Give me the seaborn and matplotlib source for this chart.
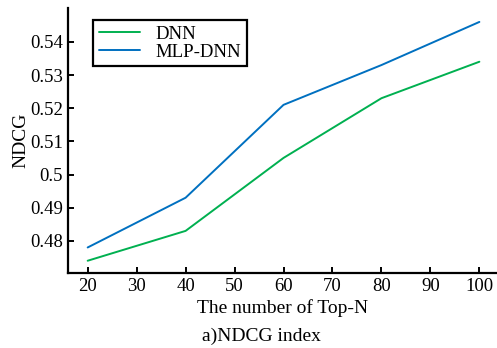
import matplotlib
matplotlib.use("Agg")
import matplotlib.pyplot as plt
import seaborn as sns
import pandas as pd
from matplotlib.ticker import FuncFormatter

top_n = [20, 40, 60, 80, 100]
dnn = [0.474, 0.483, 0.505, 0.523, 0.534]
mlp_dnn = [0.478, 0.493, 0.521, 0.533, 0.546]
x_ticks = [20, 30, 40, 50, 60, 70, 80, 90, 100]
y_ticks = [0.48, 0.49, 0.50, 0.51, 0.52, 0.53, 0.54]

df = pd.DataFrame({
    "Top-N": top_n * 2,
    "NDCG": dnn + mlp_dnn,
    "Model": ["DNN"] * len(top_n) + ["MLP-DNN"] * len(top_n),
})

sns.set_style("ticks")
plt.rcParams["font.family"] = ["Liberation Serif", "DejaVu Serif"]
plt.rcParams["text.color"] = "black"
plt.rcParams["axes.labelcolor"] = "black"

fig = plt.figure(figsize=(4.97, 3.48), dpi=100)
ax = fig.add_axes([0.137, 0.2155, 0.863, 0.7615])

sns.lineplot(data=df, x="Top-N", y="NDCG", hue="Model",
             palette={"DNN": "#00b050", "MLP-DNN": "#0070c0"},
             linewidth=1.4, ax=ax)

ax.set_xlim(16, 103.6)
ax.set_ylim(0.4703, 0.5502)
ax.set_xticks(x_ticks)
ax.set_yticks(y_ticks)
ax.yaxis.set_major_formatter(FuncFormatter(lambda v, p: f"{v:g}"))
ax.tick_params(direction="in", length=4, width=1.4, labelsize=13.5, colors="black")
for side in ["top", "right"]:
    ax.spines[side].set_visible(False)
for side in ["left", "bottom"]:
    ax.spines[side].set_linewidth(1.6)
    ax.spines[side].set_color("black")

ax.set_xlabel("The number of Top-N", fontsize=14, labelpad=3, color="black")
ax.set_ylabel("NDCG", fontsize=14, labelpad=1, color="black")

leg = ax.legend(loc="upper left", bbox_to_anchor=(0.058, 0.955), fontsize=13.5,
                frameon=True, fancybox=False, framealpha=1,
                edgecolor="black", handlelength=2.2, borderpad=0.3,
                borderaxespad=0, labelspacing=0.05, handletextpad=0.85)
leg.get_frame().set_linewidth(1.6)
for t in leg.get_texts():
    t.set_color("black")

fig.text(0.527, 0.008, "a)NDCG index", ha="center", va="bottom", fontsize=14,
         color="black")

fig.savefig("out.png", dpi=100)
